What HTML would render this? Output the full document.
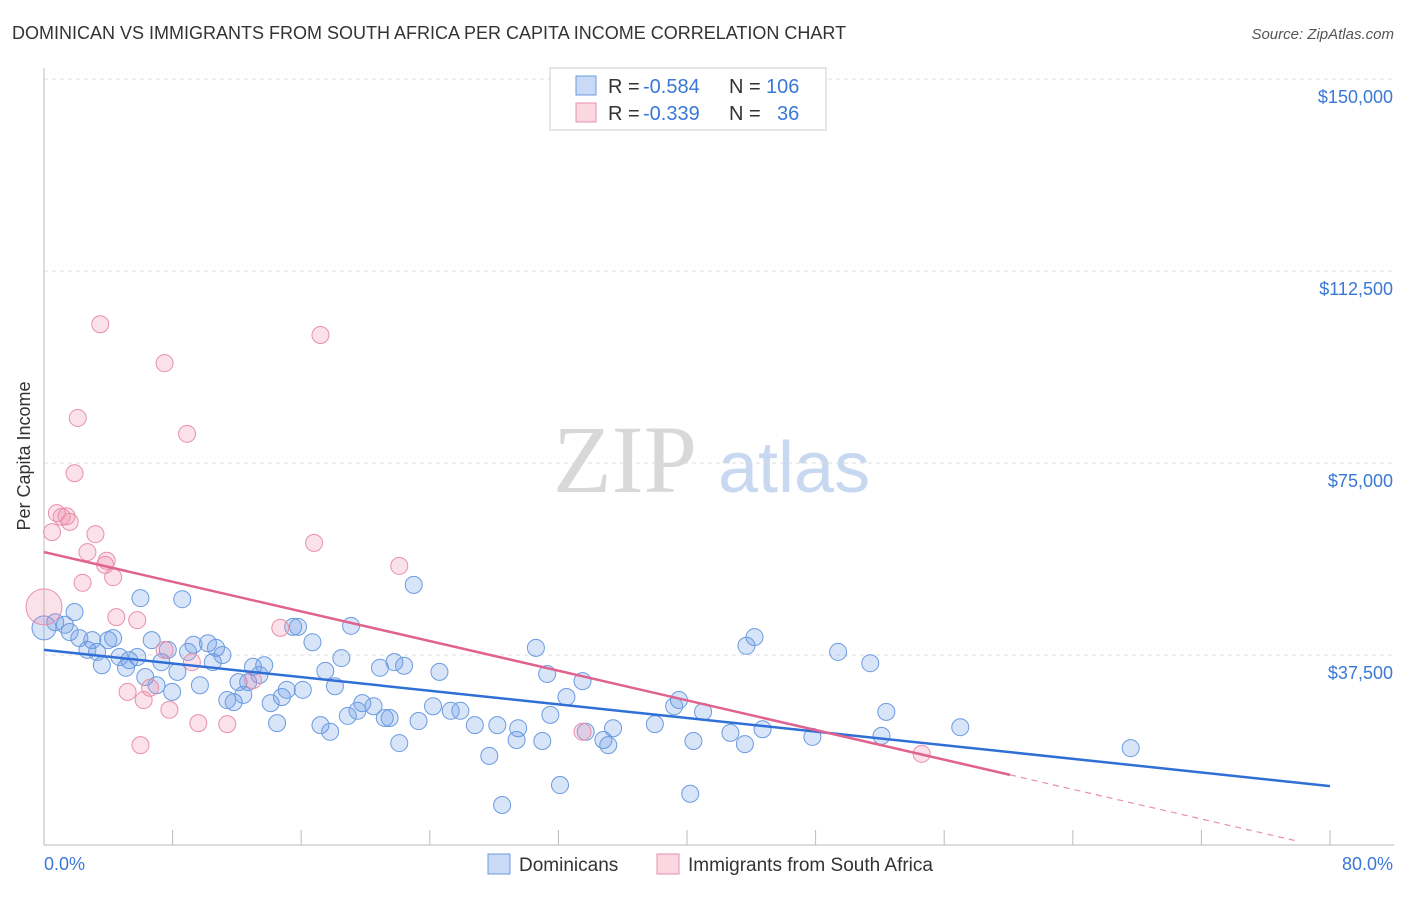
<!DOCTYPE html>
<html><head><meta charset="utf-8"><style>
body{margin:0;background:#fff;font-family:"Liberation Sans",sans-serif;}
</style></head><body>
<svg id="c" width="1406" height="892" xmlns="http://www.w3.org/2000/svg" style="font-family:'Liberation Sans',sans-serif">
<text x="12" y="39" font-size="18" fill="#333">DOMINICAN VS IMMIGRANTS FROM SOUTH AFRICA PER CAPITA INCOME CORRELATION CHART</text>
<text x="1394" y="39" font-size="15" fill="#555" text-anchor="end" font-style="italic">Source: ZipAtlas.com</text>
<text x="30" y="456" font-size="18" fill="#333" text-anchor="middle" transform="rotate(-90 30 456)">Per Capita Income</text>
<g>
<text x="553" y="492" font-size="96" font-family="Liberation Serif,serif" fill="#d8d8d8">ZIP</text>
<text x="718" y="492" font-size="72" fill="#c8d8f0">atlas</text>
</g>
<g id="grid"></g><g id="axes"></g><g id="pts"></g><g id="lines"></g>
<g>
<rect x="550" y="68" width="276" height="62" fill="#fff" stroke="#ccc"/>
<rect x="576" y="76" width="20" height="19" fill="rgba(100,150,230,0.35)" stroke="#6b9be0"/>
<text x="608" y="93" font-size="20" fill="#333">R =</text>
<text x="643" y="93" font-size="20" fill="#3a78d8">-0.584</text>
<text x="729" y="93" font-size="20" fill="#333">N =</text>
<text x="766" y="93" font-size="20" fill="#3a78d8">106</text>
<rect x="576" y="103" width="20" height="19" fill="rgba(240,140,170,0.35)" stroke="#e890aa"/>
<text x="608" y="120" font-size="20" fill="#333">R =</text>
<text x="643" y="120" font-size="20" fill="#3a78d8">-0.339</text>
<text x="729" y="120" font-size="20" fill="#333">N =</text>
<text x="777" y="120" font-size="20" fill="#3a78d8">36</text>
</g>
<g>
<rect x="488" y="854" width="22" height="20" fill="rgba(100,150,230,0.35)" stroke="#6b9be0"/>
<text x="519" y="871" font-size="19" fill="#333">Dominicans</text>
<rect x="657" y="854" width="22" height="20" fill="rgba(240,140,170,0.35)" stroke="#e890aa"/>
<text x="688" y="871" font-size="19" fill="#333">Immigrants from South Africa</text>
</g>
</svg>
<script>
const yTicks=[37.5,75,112.5,150];
const yTickLabels=["$37,500","$75,000","$112,500","$150,000"];
const xTicks=[0,8,16,24,32,40,48,56,64,72,80];
const blueX=[0,0.7,1.3,1.9,1.6,2.2,2.7,3.0,3.3,3.6,4.0,4.3,4.7,5.1,5.3,5.8,6.0,6.3,6.7,7.0,7.3,7.7,7.97,8.3,8.6,8.96,9.3,9.7,10.2,10.5,10.7,11.1,11.4,11.8,12.1,12.4,12.7,13.0,13.4,13.7,14.1,14.5,14.8,15.1,15.5,15.8,16.1,16.7,17.2,17.5,17.8,18.1,18.5,18.9,19.1,19.5,19.8,20.5,20.9,21.2,21.5,21.8,22.1,22.4,23.0,23.3,24.2,24.6,25.3,25.9,26.8,27.7,28.2,28.5,29.4,29.5,30.6,31.0,31.3,31.5,32.1,32.5,33.5,33.7,34.8,35.1,35.4,38.0,39.2,39.5,40.2,40.4,41.0,42.7,43.6,43.7,44.2,44.7,47.8,49.4,51.4,52.1,52.4,57.0,67.6];
const blueY=[42.8,43.9,43.4,45.9,42.0,40.8,38.5,40.4,38.1,35.5,40.4,40.8,37.1,35.0,36.5,37.1,48.6,33.2,40.4,31.6,36.1,38.5,30.3,34.2,48.4,38.1,39.5,31.6,39.8,36.1,38.9,37.5,28.7,28.3,32.2,29.7,32.2,35.2,33.6,35.5,28.1,24.2,29.3,30.7,43.0,43.0,30.7,40.0,23.8,34.4,22.5,31.4,36.9,25.6,43.2,26.6,28.1,27.5,35.0,25.2,25.2,36.1,20.3,35.4,51.2,24.6,27.5,34.2,26.6,26.6,23.8,17.8,23.8,8.2,20.9,23.2,38.9,20.7,33.8,25.8,12.1,29.3,32.4,22.5,20.9,19.9,23.2,24.0,27.5,28.7,10.4,20.7,26.4,22.3,20.1,39.3,41.0,23.0,21.5,38.1,35.9,21.7,26.4,23.4,19.3];
const pinkX=[0,0.5,0.8,1.1,1.4,1.6,1.9,2.1,2.4,2.7,3.2,3.5,3.8,3.9,4.3,4.5,5.2,5.8,6.0,6.2,6.6,7.5,7.5,7.8,8.9,9.2,9.6,11.4,13.0,14.7,16.8,17.2,22.1,33.5,54.6];
const pinkY=[46.9,61.5,65.2,64.5,64.6,63.5,73.0,83.8,51.6,57.6,61.1,102.1,55.1,55.9,52.7,44.9,30.3,44.3,19.9,28.7,31.1,94.5,38.5,26.8,80.7,36.1,24.2,24.0,32.6,42.8,59.4,100.0,54.9,22.5,18.2];
const blueTrend=[38.5,11.9];
const pinkTrend=[57.6,-0.724];
const pinkSolidEnd=60.1, pinkDashEnd=78;
const NS="http://www.w3.org/2000/svg";
const X=v=>44+v/80*1286, Y=v=>847-v/37.5*192;
function mk(tag,attrs,parent){const e=document.createElementNS(NS,tag);for(const k in attrs)e.setAttribute(k,attrs[k]);parent.appendChild(e);return e;}
const grid=document.getElementById('grid'),axes=document.getElementById('axes'),pts=document.getElementById('pts'),lines=document.getElementById('lines');
mk('line',{x1:44,x2:1394,y1:79,y2:79,stroke:'#ddd','stroke-dasharray':'4,4'},grid);
yTicks.forEach((t,i)=>{
 const l=mk('line',{x1:44,x2:1394,y1:Y(t),y2:Y(t),stroke:'#ddd','stroke-dasharray':'4,4'},grid);
 
 
 const tx=mk('text',{x:1393,y:Y(t)+24,'font-size':18,fill:'#3a78d8','text-anchor':'end'},axes);
 tx.textContent=yTickLabels[i];
 
 
});
mk('line',{x1:44,x2:44,y1:68,y2:845,stroke:'#bbb'},axes);
mk('line',{x1:44,x2:1394,y1:845,y2:845,stroke:'#bbb'},axes);
xTicks.forEach(t=>{const l=mk('line',{x1:X(t),x2:X(t),y1:830,y2:845,stroke:'#bbb'},axes);
 
 });
let a=mk('text',{x:44,y:870,'font-size':18,fill:'#3a78d8'},axes);a.textContent='0.0%';


a=mk('text',{x:1393,y:870,'font-size':18,fill:'#3a78d8','text-anchor':'end'},axes);a.textContent='80.0%';


blueX.forEach((x,i)=>{const c=mk('circle',{cx:X(x),cy:Y(blueY[i]),r:i==0?12:8.5,fill:'rgba(100,150,230,0.25)',stroke:'#6b9be0','stroke-width':1},pts);
 
 });
pinkX.forEach((x,i)=>{const c=mk('circle',{cx:X(x),cy:Y(pinkY[i]),r:i==0?18:8.5,fill:'rgba(240,140,170,0.25)',stroke:'#e890aa','stroke-width':1},pts);
 
 });
let t=mk('line',{x1:X(0),y1:Y(blueTrend[0]),x2:X(80),y2:Y(blueTrend[1]),stroke:'#2f6fd6','stroke-width':2.5},lines);


const pf=x=>pinkTrend[0]+pinkTrend[1]*x;
t=mk('line',{x1:X(0),y1:Y(pf(0)),x2:X(pinkSolidEnd),y2:Y(pf(pinkSolidEnd)),stroke:'#e0628e','stroke-width':2.5},lines);


t=mk('line',{x1:X(pinkSolidEnd),y1:Y(pf(pinkSolidEnd)),x2:X(pinkDashEnd),y2:Y(pf(pinkDashEnd)),stroke:'#e890aa','stroke-width':1.2,'stroke-dasharray':'6,5'},lines);


</script>
</body></html>
